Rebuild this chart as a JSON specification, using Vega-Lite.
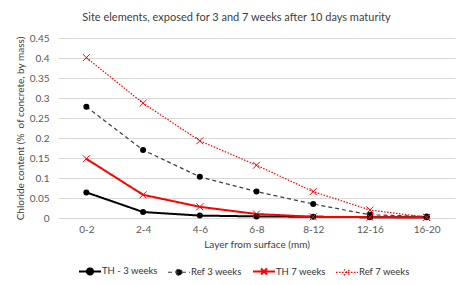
{
  "$schema": "https://vega.github.io/schema/vega-lite/v6.json",
  "width": 397,
  "height": 180,
  "autosize": {"type": "none"},
  "padding": {"left": 58, "top": 38, "right": 21, "bottom": 67},
  "background": "white",
  "title": {"text": "Site elements, exposed for 3 and 7 weeks after 10 days maturity", "font": "Lato", "fontSize": 11, "fontWeight": "normal", "color": "#404040", "anchor": "middle", "dx": -20, "offset": 10},
  "config": {"view": {"stroke": null}, "font": "Lato"},
  "data": {"values": [
    {"layer": "0-2", "series": "TH - 3 weeks", "value": 0.064},
    {"layer": "2-4", "series": "TH - 3 weeks", "value": 0.015},
    {"layer": "4-6", "series": "TH - 3 weeks", "value": 0.006},
    {"layer": "6-8", "series": "TH - 3 weeks", "value": 0.004},
    {"layer": "8-12", "series": "TH - 3 weeks", "value": 0.003},
    {"layer": "12-16", "series": "TH - 3 weeks", "value": 0.002},
    {"layer": "16-20", "series": "TH - 3 weeks", "value": 0.002},
    {"layer": "0-2", "series": "Ref 3 weeks", "value": 0.278},
    {"layer": "2-4", "series": "Ref 3 weeks", "value": 0.17},
    {"layer": "4-6", "series": "Ref 3 weeks", "value": 0.103},
    {"layer": "6-8", "series": "Ref 3 weeks", "value": 0.066},
    {"layer": "8-12", "series": "Ref 3 weeks", "value": 0.035},
    {"layer": "12-16", "series": "Ref 3 weeks", "value": 0.008},
    {"layer": "16-20", "series": "Ref 3 weeks", "value": 0.004},
    {"layer": "0-2", "series": "TH 7 weeks", "value": 0.148},
    {"layer": "2-4", "series": "TH 7 weeks", "value": 0.058},
    {"layer": "4-6", "series": "TH 7 weeks", "value": 0.028},
    {"layer": "6-8", "series": "TH 7 weeks", "value": 0.01},
    {"layer": "8-12", "series": "TH 7 weeks", "value": 0.003},
    {"layer": "12-16", "series": "TH 7 weeks", "value": 0.002},
    {"layer": "16-20", "series": "TH 7 weeks", "value": 0.001},
    {"layer": "0-2", "series": "Ref 7 weeks", "value": 0.401},
    {"layer": "2-4", "series": "Ref 7 weeks", "value": 0.287},
    {"layer": "4-6", "series": "Ref 7 weeks", "value": 0.193},
    {"layer": "6-8", "series": "Ref 7 weeks", "value": 0.132},
    {"layer": "8-12", "series": "Ref 7 weeks", "value": 0.066},
    {"layer": "12-16", "series": "Ref 7 weeks", "value": 0.02},
    {"layer": "16-20", "series": "Ref 7 weeks", "value": 0.002}
  ]},
  "encoding": {
    "x": {"field": "layer", "type": "ordinal", "sort": ["0-2", "2-4", "4-6", "6-8", "8-12", "12-16", "16-20"],
      "scale": {"type": "point", "padding": 0.5},
      "axis": {"title": "Layer from surface (mm)", "labelAngle": 0, "domain": false, "ticks": false, "tickSize": 0, "labelPadding": 6, "labelFontSize": 10, "labelColor": "#595959", "titleFontSize": 10, "titleFontWeight": "normal", "titleColor": "#404040", "titlePadding": 5, "labelFont": "Lato", "titleFont": "Lato"}},
    "y": {"field": "value", "type": "quantitative",
      "scale": {"domain": [0, 0.45], "nice": false},
      "axis": {"title": "Chloride content (% \u00a0of concrete, by mass)", "values": [0, 0.05, 0.1, 0.15, 0.2, 0.25, 0.3, 0.35, 0.4, 0.45], "format": "~g", "domain": false, "ticks": false, "tickSize": 0, "labelPadding": 9, "labelFontSize": 10, "labelColor": "#595959", "gridColor": "#d9d9d9", "gridWidth": 1, "titleFontSize": 10, "titleFontWeight": "normal", "titleColor": "#404040", "titlePadding": 4, "labelFont": "Lato", "titleFont": "Lato"}}
  },
  "layer": [
    {
      "mark": {"type": "line"},
      "encoding": {
        "color": {"field": "series", "type": "nominal",
          "scale": {"domain": ["TH - 3 weeks", "Ref 3 weeks", "TH 7 weeks", "Ref 7 weeks"], "range": ["#000000", "#404040", "#ff0000", "#ff0000"]},
          "legend": {"title": null, "orient": "none", "legendX": 20, "legendY": 221, "direction": "horizontal", "columns": 4, "padding": 0,
            "symbolSize": 484, "labelFontSize": 9.5, "labelColor": "#333333", "labelFont": "Lato", "labelOffset": 0, "columnPadding": 7,
            "encode": {"symbols": {"update": {
              "shape": {"signal": "(datum.value == 'TH - 3 weeks' || datum.value == 'Ref 3 weeks') ? 'M-1,0L1,0M-0.28,0A0.28,0.28 0 1,1 0.28,0A0.28,0.28 0 1,1 -0.28,0' : 'M-1,0L1,0M-0.27,-0.27L0.27,0.27M-0.27,0.27L0.27,-0.27'"},
              "fill": {"signal": "(datum.value == 'TH - 3 weeks' || datum.value == 'Ref 3 weeks') ? 'black' : 'transparent'"},
              "strokeWidth": {"signal": "(datum.value == 'TH - 3 weeks' || datum.value == 'TH 7 weeks') ? 2 : 1.2"}
            }}}}},
        "strokeDash": {"field": "series", "type": "nominal",
          "scale": {"domain": ["TH - 3 weeks", "Ref 3 weeks", "TH 7 weeks", "Ref 7 weeks"], "range": [[1, 0], [4, 3], [1, 0], [1.5, 1.5]]}},
        "strokeWidth": {"field": "series", "type": "nominal", "legend": null,
          "scale": {"type": "ordinal", "domain": ["TH - 3 weeks", "Ref 3 weeks", "TH 7 weeks", "Ref 7 weeks"], "range": [2, 1.2, 2, 1.2]}}
      }
    },
    {
      "transform": [{"filter": "datum.series == 'TH - 3 weeks' || datum.series == 'Ref 3 weeks'"}],
      "mark": {"type": "point", "shape": "circle", "filled": true, "size": 36, "color": "#000000", "opacity": 1}
    },
    {
      "transform": [{"filter": "datum.series == 'TH 7 weeks' || datum.series == 'Ref 7 weeks'"}],
      "mark": {"type": "point", "shape": "M-1.15,-1.15L1.15,1.15M-1.15,1.15L1.15,-1.15", "filled": false, "size": 36, "strokeWidth": 1, "color": "#ff0000", "opacity": 1}
    }
  ]
}
